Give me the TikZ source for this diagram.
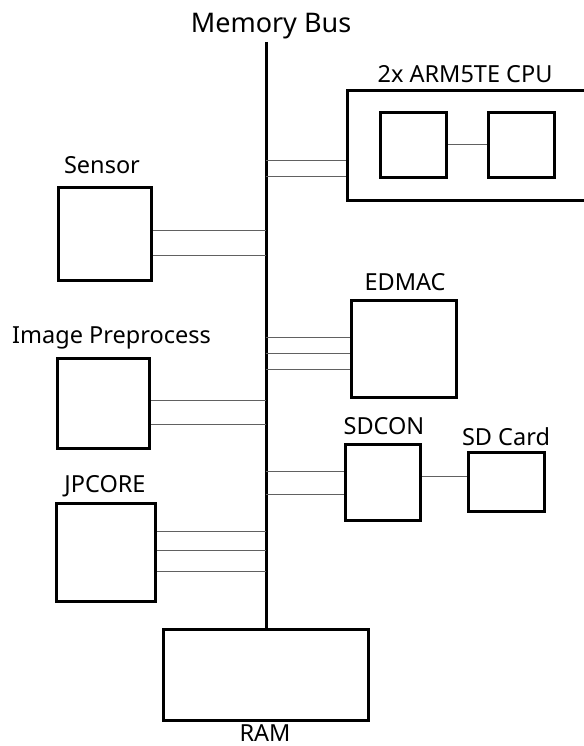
\documentclass[tikz,border=0pt]{standalone}
\usepackage{fontspec}
\setmainfont{Noto Sans}
\definecolor{linkgray}{gray}{0.38}
\tikzset{
    block/.style={draw,line width=3.6pt,inner sep=0pt,fill=white},
    link/.style={draw=linkgray,line width=1pt},
    tag/.style={anchor=base,inner sep=0pt,font=\fontsize{23.5}{28}\selectfont}
}
\begin{document}
\begin{tikzpicture}[x=1pt,y=-1pt]

\useasboundingbox (0,0) rectangle (583,746);

% Bus
\coordinate (bus) at (266,42);
\node[tag,font=\fontsize{27}{32}\selectfont] (busText) at (271,33) {Memory Bus};

\node[block,minimum width=205pt,minimum height=91pt] (ram) at (266,675) {};
\node[tag] (ramText) at (265,741.5) {RAM};

\draw[line width=3pt]
(bus)
--
(ram.north);

% CPU
\node[block,minimum width=260pt,minimum height=110pt] (cpu) at (477.5,145.5) {};
\node[tag] (cpuText) at (465,83) {2x ARM5TE CPU};
\node[block,minimum width=66pt,minimum height=65pt] (cpuA) at (413.5,145) {};
\node[block,minimum width=66pt,minimum height=65pt] (cpuB) at (521.5,145) {};
\draw[link] (cpuA) -- (cpuB);

\foreach \y in {161,177}
{
    \draw[link] (bus |- 0,\y) -- (cpu.west |- 0,\y);
}

% Sensor
\node[block,minimum width=93pt,minimum height=93pt] (sensor) at (105,234) {};
\node[tag] (sensorText) at (102,174) {Sensor};

\foreach \y in {230,255}
{
    \draw[link] (sensor.east |- 0,\y) -- (bus |- 0,\y);
}

% EDMAC
\node[block,minimum width=105pt,minimum height=97pt] (edmac) at (404,349) {};
\node[tag] (edmacText) at (405,290) {EDMAC};

\foreach \y in {337,353,369}
{
    \draw[link] (bus |- 0,\y) -- (edmac.west |- 0,\y);
}

% Image Preprocess
\node[block,minimum width=92pt,minimum height=90pt] (imgpre) at (103.5,403.5) {};
\node[tag] (imgpreText) at (111.5,343) {Image Preprocess};

\foreach \y in {400,424}
{
    \draw[link] (imgpre.east |- 0,\y) -- (bus |- 0,\y);
}

% SDCON + SD Card
\node[block,minimum width=75pt,minimum height=76pt] (sdcon) at (383,482.5) {};
\node[tag] (sdconText) at (384,434) {SDCON};
\node[block,minimum width=76pt,minimum height=59pt] (sdcard) at (506.5,482) {};
\node[tag] (sdcardText) at (506,445) {SD Card};

\foreach \y in {471,494}
{
    \draw[link] (bus |- 0,\y) -- (sdcon.west |- 0,\y);
}
\draw[link] (sdcon.east |- 0,476) -- (sdcard.west |- 0,476);

% JPCORE
\node[block,minimum width=99pt,minimum height=98pt] (jpcore) at (106,552.5) {};
\node[tag] (jpcoreText) at (105,492) {JPCORE};

\foreach \y in {531,550,571}
{
    \draw[link] (jpcore.east |- 0,\y) -- (bus |- 0,\y);
}

\end{tikzpicture}
\end{document}
